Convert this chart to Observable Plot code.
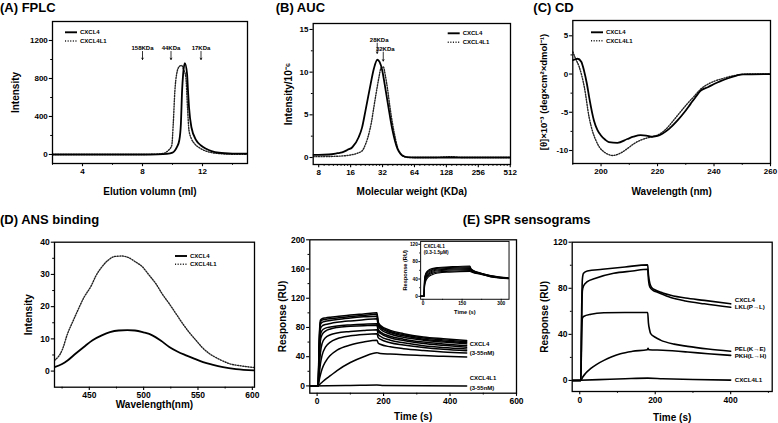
<!DOCTYPE html>
<html><head><meta charset="utf-8">
<script src="https://cdn.jsdelivr.net/npm/d3@7"></script>
<script src="https://cdn.jsdelivr.net/npm/@observablehq/plot@0.6"></script>
<style>
body{margin:0;background:#fff;}
#root{position:relative;width:778px;height:423px;overflow:hidden;font-family:"Liberation Sans",Arial,Helvetica,sans-serif;background:#fff;}
.panel{position:absolute;}
.title{position:absolute;font-weight:bold;font-size:13px;line-height:15px;white-space:nowrap;color:#000;}
</style></head><body><div id="root"></div><script>
// ---------------- DATA ----------------
// (A) FPLC : [elution volume (ml), intensity]
const fplcCXCL4 = [[2,0],[8,0],[9,2],[9.62,7],[10.0,20],[10.16,42],[10.3,80],[10.45,147],[10.56,323],[10.64,673],[10.71,849],[10.82,961],[10.97,849],[11.03,680],[11.1,498],[11.26,287],[11.59,147],[11.9,95],[12.24,60],[12.6,35],[13.1,18],[14,10],[15,8]];
const fplcCXCL4L1 = [[2,0],[8,0],[8.6,2],[9.18,7],[9.5,18],[9.72,42],[9.95,95],[10.05,323],[10.16,673],[10.28,849],[10.45,926],[10.6,937],[10.75,890],[10.89,814],[11.0,498],[11.1,253],[11.25,170],[11.48,112],[11.8,70],[12.13,42],[12.6,20],[13.33,7],[14,3],[15,2]];
const fplcMarkerNames = ["158KDa", "44KDa", "17KDa"];
const fplcMarkerVol = [8, 9.9, 11.9];
const fplcXTicks = [4, 8, 12], fplcYTicks = [0, 400, 800, 1200];

// (B) AUC : [molecular weight (KDa), intensity/1e-6]
const aucCXCL4 = [[7.1,0.3],[8,0.3],[10,0.35],[12,0.5],[13.3,0.6],[15,0.9],[16.6,1.2],[19.1,2.4],[20.5,3.5],[22.1,5.5],[24.7,8.6],[26.5,10.4],[28.6,11.45],[30,11.2],[31.8,10.2],[33.5,8.6],[35.5,6.7],[37.5,4.9],[39.7,3.2],[42,1.9],[44.3,1.0],[47.5,0.4],[50.9,0.15],[55,0.05],[64,0],[128,0],[515,0]];
const aucCXCL4L1 = [[7.1,0.1],[8,0.1],[12,0.15],[16,0.3],[18.5,0.5],[20.6,0.8],[22.2,1.6],[23.8,2.8],[25.2,4.2],[26.5,5.9],[28,7.7],[29.6,9.4],[31,10.5],[32.6,10.6],[34,9.6],[35.5,8.2],[37.5,6.0],[39.7,4.0],[42,2.4],[44.3,1.2],[47.5,0.45],[50.9,0.1],[56,0],[100,0],[140,0.1],[180,0],[515,0]];
const aucMarkerNames = ["28KDa", "32KDa"];
const aucMarkerMw = [28.5, 32.5];
const aucXTicks = [8, 16, 32, 64, 128, 256, 512], aucYTicks = [0, 5, 10, 15];

// (C) CD : [wavelength (nm), ellipticity x1e-3]
const cdCXCL4 = [[190,1.8],[191.7,2.0],[193,1.6],[194,0.4],[195,-1.3],[195.8,-3.05],[197.5,-6.1],[198.7,-7.3],[199.9,-8.0],[201.5,-8.6],[202.8,-8.9],[205.8,-9.0],[209.3,-8.5],[211.5,-8.2],[214,-8.0],[216,-8.05],[218.2,-8.2],[220,-8.1],[221.7,-7.8],[224,-7.2],[227,-6.1],[229.5,-5.0],[231.7,-3.9],[233.5,-3.0],[235.2,-2.2],[238,-1.7],[240,-1.3],[242.5,-0.9],[245,-0.55],[248,-0.2],[250,-0.05],[260,0]];
const cdCXCL4L1 = [[190,2.9],[191,2.0],[192.3,0.9],[194.1,-1.75],[195.8,-5.7],[197,-7.5],[198.2,-8.7],[199.5,-9.6],[201.1,-10.2],[202.5,-10.5],[204,-10.65],[205.5,-10.55],[207.6,-10.2],[209.5,-9.7],[211.7,-9.1],[214,-8.65],[216.4,-8.35],[218.5,-8.15],[220.5,-7.9],[223,-7.2],[225.8,-6.0],[228,-5.0],[230.5,-3.9],[233,-2.9],[235.2,-2.0],[238,-1.3],[240,-0.95],[243,-0.6],[246,-0.3],[249,-0.1],[252,0],[260,0]];
const cdXTicks = [200, 220, 240, 260], cdYTicks = [-10, -5, 0, 5];

// (D) ANS binding : [wavelength (nm), intensity]
const ansCXCL4 = [[418,1.2],[425,2.2],[430,3.3],[437,5.3],[445,7.5],[453,9.6],[461.5,11.1],[469,12.1],[477,12.6],[485,12.7],[492,12.6],[500,12.0],[508,11.1],[516,9.4],[523.6,7.5],[531,6.1],[539,4.9],[547,3.8],[554.7,2.8],[563,2.0],[573,1.2],[585,0.6],[602,0.2]];
const ansCXCL4L1 = [[418,3.3],[425,6.5],[430,11.6],[435,15.5],[439.5,18.9],[445,22.8],[452,26.6],[456,29.5],[461.5,32.3],[467,34.3],[473.8,35.6],[480,35.7],[486.2,35.2],[492,34.0],[499,32.3],[505,29.8],[511.3,27.1],[517,24.0],[523.6,20.9],[530,17.7],[536,14.7],[542,12],[548.3,9.5],[554,7.3],[560.6,5.4],[570,3.6],[579,2.3],[590,1.6],[602,1.1]];
const ansXTicks = [450, 500, 550, 600], ansYTicks = [0, 10, 20, 30, 40];

// (E) SPR left : CXCL4 3-55nM sensograms, time (s) and response (RU)
const sprTimes = [-20, 3, 6, 10, 15, 25, 40, 60, 100, 140, 180, 184, 190, 220, 260, 320, 380, 450];
const sprCXCL4 = [
  [0,0,60,90,92,93,94,95,97,98.5,100,87,83,76,71.5,67,64.5,62],
  [0,0,55,87,90,91,92,93,95,96.5,98,86,81.5,74.5,70,65.5,63,60.5],
  [0,0,50,84,87,88.5,89.5,91,93,94.5,95.5,84.5,80,73,68.5,64,61.5,59],
  [0,0,45,78,82,84,85.5,87,89,90.5,92,82,78,71,66.5,62.5,60,57.5],
  [0,0,38,70,76,79,80.5,82,83.5,84.5,85,77,74,68,64,60,57.5,55],
  [0,0,32,62,70,75,78,80,81.5,82.5,83,75,72,66,62,58,55.5,53],
  [0,0,22,45,58,66,70,72.5,74.5,76,77,70.5,68,62.5,59,55,52.5,50.5],
  [0,0,14,30,42,53,60,64.5,68.5,70.5,71.5,66,64,59,56,52.5,50,48],
  [0,0,7,15,23,33,42,49,56,60,62.5,58.5,57,53.5,51,48.5,46.5,45],
  [0,0,1.5,3,5,9,14,21,32,40,45.5,45,44.5,43.5,42.5,41.5,40.5,39.5]
];
const sprCXCL4L1 = [[-20,0],[100,0.6],[180,1.2],[200,0.6],[450,0]];
const sprLabels = ["CXCL4\n(3-55nM)", "CXCL4L1\n(3-55nM)"];
const sprXTicks = [0, 200, 400, 600], sprYTicks = [0, 40, 80, 120, 160, 200];

// inset : CXCL4L1 0.3-1.5uM
const insetTimes = [-10, 4, 6, 10, 20, 35, 60, 100, 180, 184, 190, 220, 260, 330];
const insetCXCL4L1 = [
  [0,0,40,52,60,64,66.5,68,70,64,61,54,48,42.5],
  [0,0,38,50,58,62,65,66.5,68,63,60,53.5,47.5,42],
  [0,0,35,47,56,60,63,64.5,66,62,59,53,47,42],
  [0,0,32,44,53,58,61,62.5,64,61,58,52.5,46.5,41.5],
  [0,0,29,41,50,55.5,59,60.5,62,59.5,57,52,46,41.5],
  [0,0,26,38,47,53,56.5,58,59.5,58,56,51.5,45.5,41],
  [0,0,22,34,44,50,54,56,57.5,56.5,55,51,45,41]
];
const insetXTicks = [0, 150, 300], insetYTicks = [0, 40, 80, 120];

// (E) SPR right : mutants
const spr2CXCL4 = [[-20,0],[3,0],[5,60],[7,88],[10,93],[20,95],[60,96.5],[120,98.5],[180,100.3],[182,92],[186,84],[190,81],[200,78.5],[220,76],[241,74],[280,71.5],[330,69.5],[400,66.5]];
const spr2LKL = [[-20,0],[3,0],[5,50],[7,78],[10,82],[20,85.7],[40,88.5],[90,93],[140,95],[180,96.5],[182,88],[186,81],[195,78],[206,76.5],[241,72],[280,69],[330,66.5],[400,63.5]];
const spr2PEL = [[-20,0],[3,0],[5,40],[7,54],[10,55.5],[30,57.5],[64,58.7],[120,59],[180,59],[182,50],[185,44],[188,40.7],[200,37.5],[214,35],[250,31.5],[285.6,29.6],[340,27.3],[400,25.3]];
const spr2PKH = [[-20,0],[3,0],[8,3],[15,6],[28.5,10.2],[45,14],[64,17.4],[85,20.5],[108,23.2],[140,25.3],[179,26.7],[181,28],[183,26.7],[220,26.2],[285.6,24.7],[340,23.2],[400,21.8]];
const spr2CXCL4L1 = [[-20,0],[50,0.7],[120,1.5],[180,2],[220,1.5],[300,0.8],[400,0.3]];
const spr2Names = ["CXCL4", "LKL(P\u2192L)", "PEL(K\u2192E)", "PKH(L\u2192H)", "CXCL4L1"];
const spr2XTicks = [0, 200, 400], spr2YTicks = [0, 40, 80, 120];

// ---------------- DRAWING ----------------
const FONT = '"Liberation Sans", Arial, Helvetica, sans-serif';
const root = document.getElementById("root");
const tf = d => String(d);

function place(node, left, top, w, h) {
  const d = document.createElement("div");
  d.className = "panel";
  d.style.left = left + "px"; d.style.top = top + "px";
  if (w) { d.style.width = w + "px"; d.style.height = h + "px"; d.style.overflow = "hidden"; }
  d.appendChild(node); root.appendChild(d); return d;
}
function title(text, left, top) {
  const d = document.createElement("div");
  d.className = "title"; d.textContent = text;
  d.style.left = left + "px"; d.style.top = top + "px";
  root.appendChild(d);
}
function axisSet(o) {
  const tfont = o.tickFont || 8, lfont = o.labelFont || 10;
  const minorX = o.xMinor || [], minorY = o.yMinor || [];
  return [
    Plot.axisX(minorX, {tickSize: o.minor || 1.8, tickFormat: () => "", label: null, strokeWidth: 1}),
    Plot.axisY(minorY, {tickSize: o.minor || 1.8, tickFormat: () => "", label: null, strokeWidth: 1}),
    Plot.axisX(o.xTicks, {tickSize: o.major || 3.2, tickPadding: o.xPad ?? 2, tickFormat: tf, label: null, fontSize: tfont, fontWeight: "bold", strokeWidth: 1.1}),
    Plot.axisY(o.yTicks, {tickSize: o.major || 3.2, tickPadding: o.yPad ?? 1.5, tickFormat: tf, label: null, fontSize: tfont, fontWeight: "bold", strokeWidth: 1.1}),
    Plot.axisX([], {label: o.xLabel, labelAnchor: "center", labelArrow: false, labelOffset: o.xOff, fontSize: lfont, fontWeight: "bold", tickSize: 0}),
    Plot.axisY([], {label: o.yLabel, labelAnchor: "center", labelArrow: false, labelOffset: o.yOff, fontSize: o.yLabelFont || lfont, fontWeight: "bold", tickSize: 0})
  ];
}
const DOTS = "1.1 1.5";
const solid = {x: d => d[0], y: d => d[1], stroke: "#000", strokeWidth: 1.8, curve: "monotone-x", clip: true};
const dotted = {x: d => d[0], y: d => d[1], stroke: "#222", strokeWidth: 1.4, strokeDasharray: DOTS, curve: "monotone-x", clip: true};
const frame = Plot.frame({stroke: "#000", strokeWidth: 1.3});
const style = {fontFamily: FONT, color: "#000", background: "transparent", overflow: "visible"};

function legend(svg, x, y, gap, items) {
  const g = d3.select(svg).append("g").attr("text-anchor", "start");
  items.forEach((it, i) => {
    g.append("line").attr("x1", x).attr("x2", x + 12).attr("y1", y + i * gap).attr("y2", y + i * gap)
      .attr("stroke", it.dash ? "#222" : "#000").attr("stroke-width", it.dash ? 1.4 : 1.9).attr("stroke-dasharray", it.dash || null);
    g.append("text").attr("x", x + 15).attr("y", y + i * gap).attr("dy", "0.35em").attr("text-anchor", "start")
      .attr("font-size", 6).attr("font-weight", "bold").attr("font-family", FONT).attr("fill", "#000").text(it.name);
  });
}
const legItems = [{name: "CXCL4"}, {name: "CXCL4L1", dash: DOTS}];

// ----- (A) FPLC -----
{
  const svg = Plot.plot({
    width: 260, height: 200, marginLeft: 52, marginRight: 13, marginTop: 21, marginBottom: 37,
    style,
    x: {domain: [2, 15]}, y: {domain: [-95, 1400]},
    marks: [
      ...axisSet({xTicks: fplcXTicks, xMinor: [2, 6, 10, 14], yTicks: fplcYTicks, yMinor: [200, 600, 1000],
        xLabel: "Elution volumn (ml)", yLabel: "Intensity", xOff: 31, yOff: 41}),
      Plot.line(fplcCXCL4L1, dotted),
      Plot.line(fplcCXCL4, solid),
      Plot.text(fplcMarkerVol, {x: d => d, y: 1120, text: (d, i) => fplcMarkerNames[i], fontSize: 6, fontWeight: "bold"}),
      Plot.arrow(fplcMarkerVol, {x1: d => d, x2: d => d, y1: 1085, y2: 1000, headLength: 3, strokeWidth: 0.8, stroke: "#000"}),
      frame
    ]
  });
  place(svg, 0, 0);
  legend(svg, 65, 32.3, 8.7, legItems);
  title("(A) FPLC", 0, 0);
}

// ----- (B) AUC -----
{
  const minor = [];
  aucXTicks.slice(0, -1).forEach(m => { for (let k = 1; k < 8; k++) minor.push(m * (1 + k / 8)); });
  const svg = Plot.plot({
    width: 263, height: 200, marginLeft: 57.7, marginRight: 8, marginTop: 23, marginBottom: 36,
    style,
    x: {type: "log", base: 2, domain: [7.1, 515]}, y: {domain: [-0.82, 15.7]},
    marks: [
      ...axisSet({xTicks: aucXTicks, xMinor: minor, yTicks: aucYTicks, yMinor: [2.5, 7.5, 12.5],
        xLabel: "Molecular weight (KDa)", yLabel: "Intensity/10\u207B\u2076", xOff: 30, yOff: 28.5}),
      Plot.line(aucCXCL4L1, dotted),
      Plot.line(aucCXCL4, solid),
      Plot.text(aucMarkerMw, {x: d => d, y: (d, i) => [13.8, 12.7][i], dx: 2, text: (d, i) => aucMarkerNames[i], fontSize: 6, fontWeight: "bold"}),
      Plot.arrow(aucMarkerMw, {x1: d => d, x2: d => d, y1: (d, i) => [13.4, 12.35][i], y2: (d, i) => [12.2, 11.3][i], headLength: 3, strokeWidth: 0.8, stroke: "#000"}),
      frame
    ]
  });
  place(svg, 255, 0);
  legend(svg, 192.7, 33.3, 9, legItems);
  title("(B) AUC", 275.7, 0);
}

// ----- (C) CD -----
{
  const svg = Plot.plot({
    width: 263, height: 200, marginLeft: 57.3, marginRight: 8, marginTop: 20, marginBottom: 37,
    style,
    x: {domain: [190, 260]}, y: {domain: [-11.7, 7]},
    marks: [
      ...axisSet({xTicks: cdXTicks, xMinor: [190, 210, 230, 250], yTicks: cdYTicks, yMinor: [-7.5, -2.5, 2.5],
        xLabel: "Wavelength (nm)", yLabel: "[\u03B8]\u00D710\u207B\u00B3 (deg\u00D7cm\u00B2\u00D7dmol\u207B\u00B9)", xOff: 31, yOff: 33, yLabelFont: 9.5}),
      Plot.line(cdCXCL4L1, dotted),
      Plot.line(cdCXCL4, solid),
      frame
    ]
  });
  place(svg, 515, 0);
  legend(svg, 76, 32.3, 8.4, legItems);
  title("(C) CD", 533.3, 0);
}

// ----- (D) ANS -----
{
  const svg = Plot.plot({
    width: 260, height: 223, marginLeft: 54, marginRight: 6, marginTop: 41.7, marginBottom: 36.3,
    style,
    x: {domain: [418, 602]}, y: {domain: [-5, 40]},
    marks: [
      ...axisSet({xTicks: ansXTicks, xMinor: [425, 475, 525, 575], yTicks: ansYTicks, yMinor: [5, 15, 25, 35],
        xLabel: "Wavelength(nm)", yLabel: "Intensity", xOff: 21, yOff: 29.6, tickFont: 8.5}),
      Plot.line(ansCXCL4L1, dotted),
      Plot.line(ansCXCL4, solid),
      frame
    ]
  });
  place(svg, 0, 200);
  legend(svg, 175, 56, 8.3, legItems);
  title("(D) ANS binding", 0, 212);
}

// ----- (E) SPR left -----
{
  const curves = sprCXCL4.map(vals => vals.map((v, i) => [sprTimes[i], v]));
  const ends = sprCXCL4.map(v => v[v.length - 1]);
  const lastT = sprTimes[sprTimes.length - 1];
  const svg = Plot.plot({
    width: 260, height: 223, marginLeft: 49.3, marginRight: 4, marginTop: 39.3, marginBottom: 30.3,
    style,
    x: {domain: [-22, 600]}, y: {domain: [-10, 200]},
    marks: [
      ...axisSet({xTicks: sprXTicks, xMinor: [100, 300, 500], yTicks: sprYTicks, yMinor: [20, 60, 100, 140, 180],
        xLabel: "Time (s)", yLabel: "Response (RU)", xOff: 27, yOff: 31.2, tickFont: 8.5}),
      ...curves.map(c => Plot.line(c, {...solid, strokeWidth: 1.5})),
      Plot.line(sprCXCL4L1, {...solid, strokeWidth: 1.5}),
      Plot.text([sprLabels[0]], {x: lastT, y: d3.mean(ends), dx: 3, text: d => d, textAnchor: "start", lineHeight: 1.55, fontSize: 6, fontWeight: "bold"}),
      Plot.text([sprLabels[1]], {x: lastT, y: sprCXCL4L1[sprCXCL4L1.length - 1][1], dx: 3, dy: -4, text: d => d, textAnchor: "start", lineHeight: 1.55, fontSize: 6, fontWeight: "bold"}),
      frame
    ]
  });
  place(svg, 260, 200);
  title("(E) SPR sensograms", 462.7, 212);

  // inset
  const icurves = insetCXCL4L1.map(vals => vals.map((v, i) => [insetTimes[i], v]));
  const inset = Plot.plot({
    width: 140, height: 100, marginLeft: 29, marginRight: 9.3, marginTop: 5.7, marginBottom: 27.7,
    style,
    x: {domain: [-9, 330]}, y: {domain: [-6.7, 126.7]},
    marks: [
      ...axisSet({xTicks: insetXTicks, xMinor: [75, 225], yTicks: insetYTicks, yMinor: [20, 60, 100],
        xLabel: "Time (s)", yLabel: "Response (RU)", xOff: 17, yOff: 20.5, tickFont: 5.5, labelFont: 6.5,
        major: 2.2, minor: 1.2, xPad: 1, yPad: 1}),
      ...icurves.map(c => Plot.line(c, {...solid, strokeWidth: 1.3})),
      Plot.text(["CXCL4L1\n(0.3-1.5\u03BCM)"], {frameAnchor: "top-left", dx: 3.5, dy: 2.5, text: d => d, textAnchor: "start", lineAnchor: "top", lineHeight: 1.25, fontSize: 5.5, fontWeight: "bold"}),
      Plot.frame({stroke: "#000", strokeWidth: 1.1})
    ]
  });
  place(inset, 395, 236, 121.7, 100);
}

// ----- (E) SPR right -----
{
  const series = [spr2CXCL4, spr2LKL, spr2PEL, spr2PKH, spr2CXCL4L1];
  const labelDy = [-3.7, 0, -2, 0.7, 0];
  const svg = Plot.plot({
    width: 263, height: 223, marginLeft: 56.7, marginRight: 6.3, marginTop: 41.7, marginBottom: 32,
    style,
    x: {domain: [-20, 510]}, y: {domain: [-9.6, 120]},
    marks: [
      ...axisSet({xTicks: spr2XTicks, xMinor: [100, 300, 500], yTicks: spr2YTicks, yMinor: [20, 60, 100],
        xLabel: "Time (s)", yLabel: "Response (RU)", xOff: 29.6, yOff: 31.3, tickFont: 8.5}),
      ...series.map(s => Plot.line(s, {...solid, strokeWidth: 1.6})),
      ...series.map((s, i) => Plot.text([s[s.length - 1]], {x: d => d[0], y: d => d[1], dx: 4, dy: labelDy[i], text: () => spr2Names[i], textAnchor: "start", fontSize: 6.2, fontWeight: "bold"})),
      frame
    ]
  });
  place(svg, 515, 200);
}
</script></body></html>
